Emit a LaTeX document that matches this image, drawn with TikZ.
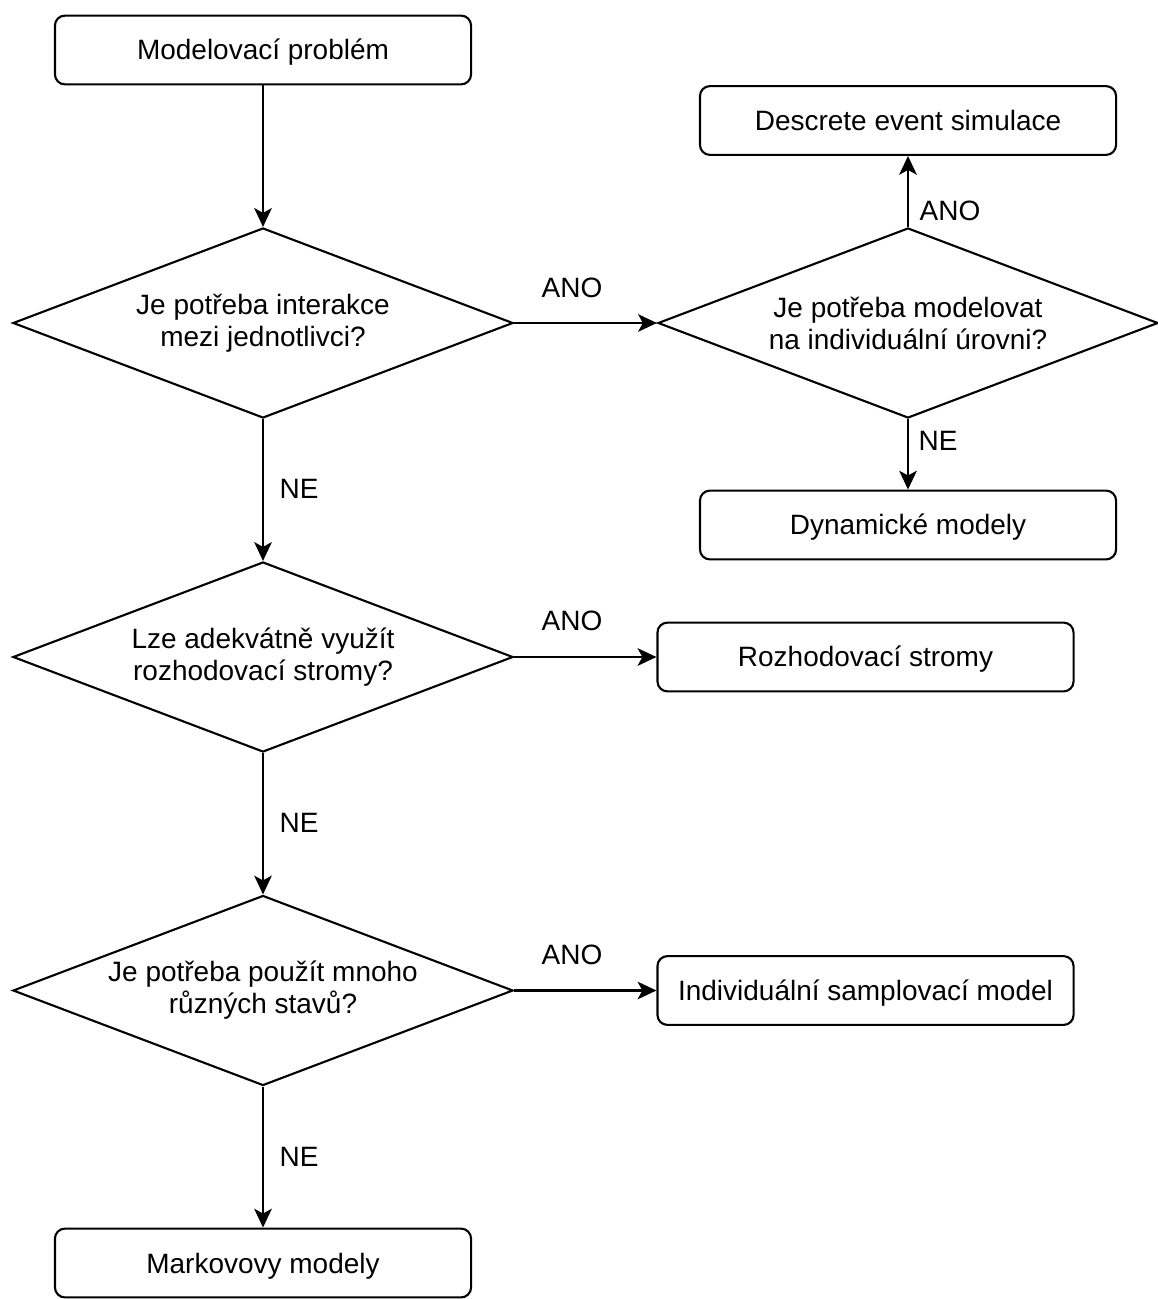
\documentclass[tikz,border=0pt]{standalone}
\usepackage{fontspec}
\setmainfont{Liberation Sans}
\usetikzlibrary{shapes.geometric,arrows.meta}

\begin{document}
\begin{tikzpicture}[x=0.025cm,y=-0.025cm,
  every node/.style={font=\fontsize{19.9pt}{22.8pt}\selectfont},
  box/.style={draw,rounded corners=0.25cm,line width=1.5pt,minimum width=10.4cm,minimum height=1.72cm,inner sep=0pt,text height=14.2pt,text depth=0pt},
  decision/.style={draw,diamond,aspect=2.63,line width=1.5pt,minimum width=12.5cm,minimum height=4.75cm,inner sep=0pt,align=center},
  arr/.style={line width=1.5pt,-{Stealth[length=0.47cm,width=0.44cm,inset=0.12cm]}},
  lbl/.style={inner sep=0pt}]
\useasboundingbox (0,0) rectangle (1157,1299);
% left column
\node[box] (start) at (263,50) {Modelovací problém};
\node[decision] (inter) at (263,323) {Je potřeba interakce\\mezi jednotlivci?};
\node[decision] (strom) at (263,657) {Lze adekvátně využít\\rozhodovací stromy?};
\node[decision] (stavy) at (263,990.5) {Je potřeba použít mnoho\\různých stavů?};
\node[box] (mark) at (263,1263) {Markovovy modely};
% right column
\node[decision] (indiv) at (908,323) {Je potřeba modelovat\\na individuální úrovni?};
\node[box] (des) at (908,120.5) {Descrete event simulace};
\node[box] (dyn) at (908,525) {Dynamické modely};
\node[box] (roz) at (865.5,657) {Rozhodovací stromy};
\node[box] (ism) at (865.5,990.5) {Individuální samplovací model};
% arrows
\draw[arr] (start) -- (inter);
\draw[arr] (inter) -- (indiv);
\draw[arr] (indiv) -- (des);
\draw[arr] (indiv) -- (dyn);
\draw[arr] (inter) -- (strom);
\draw[arr] (strom) -- (roz);
\draw[arr] (strom) -- (stavy);
\draw[arr] (stavy) -- (ism);
\draw[arr] (stavy) -- (mark);
% labels
\node[lbl] (ano1) at (572,288) {ANO};
\node[lbl] (ano2) at (950,211) {ANO};
\node[lbl] (ne1) at (938,441) {NE};
\node[lbl] (ne2) at (299,489) {NE};
\node[lbl] (ano3) at (572,621) {ANO};
\node[lbl] (ne3) at (299,823) {NE};
\node[lbl] (ano4) at (572,955) {ANO};
\node[lbl] (ne4) at (299,1157) {NE};
\end{tikzpicture}
\end{document}
